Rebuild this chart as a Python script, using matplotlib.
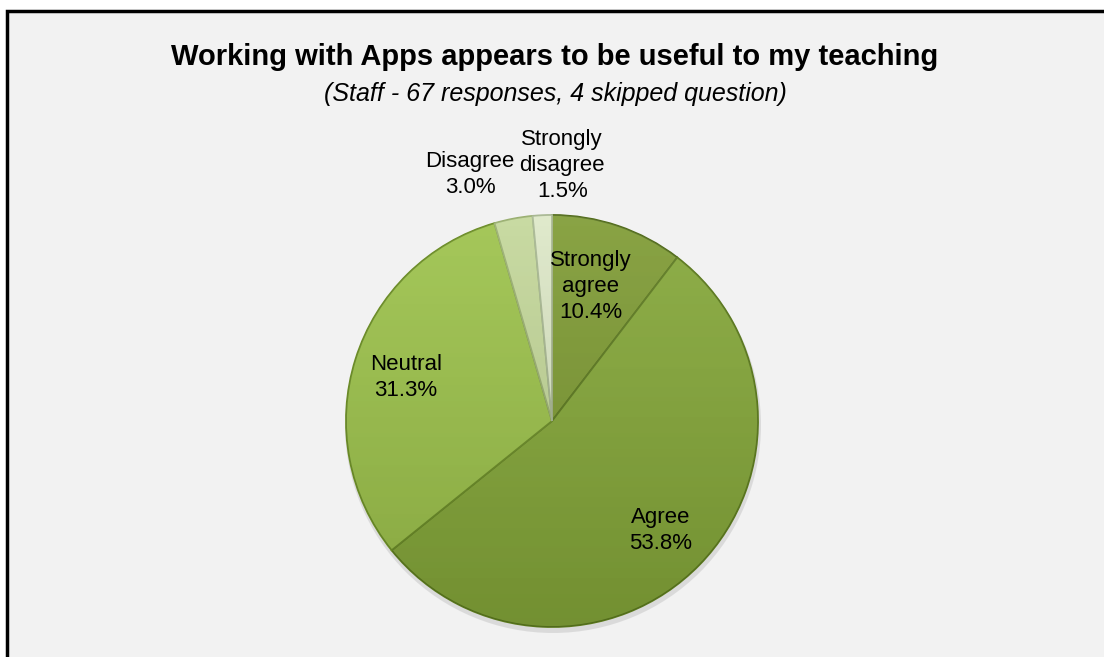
import numpy as np
import matplotlib.pyplot as plt
from matplotlib.patches import Rectangle, Circle

categories = ["Strongly\nagree", "Agree", "Neutral", "Disagree", "Strongly\ndisagree"]
percent = [10.4, 53.8, 31.3, 3.0, 1.5]
colors = ["#7d9a31", "#84a737", "#9cc249", "#c3d799", "#dce7c6"]
edges = ["#506a18", "#5a781c", "#6a8c24", "#98ae6e", "#a6b690"]

# label placement (radius as fraction of pie radius, extra angle in degrees)
lab_r = [0.68, 0.75, 0.74, 1.26, 1.24]
lab_da = [2.6, -1, 1, 7.6, -5]

FONT = "Liberation Sans"

W, H = 1104, 657
fig = plt.figure(figsize=(W / 100, H / 100), dpi=100, facecolor="white")
fig.patches.append(Rectangle((7 / W, -0.1), 1.2, (H - 11) / H + 0.1, transform=fig.transFigure,
                             facecolor="#f2f2f2", edgecolor="black", linewidth=2.5, zorder=-1))

ax = fig.add_axes([0, 0, 1, 1])
ax.axis("off")

cx, cy, R = 552, 236, 206

# soft shadow under the pie
ax.add_patch(Circle((cx + 1, cy - 4), R + 2, facecolor="#c4c4c4", edgecolor="none", alpha=0.5, zorder=1))

wedges, _ = ax.pie(percent, colors=colors, startangle=90, counterclock=False,
                   center=(cx, cy), radius=R, frame=True,
                   wedgeprops=dict(linewidth=1.3))
for w, ec in zip(wedges, edges):
    w.set_edgecolor(ec)
    w.set_zorder(2)

# vertical shading over the pie
grad = np.linspace(0, 1, 256).reshape(-1, 1)
shade = np.zeros((256, 1, 4))
shade[..., :3] = 0.1
shade[..., 3] = 0.16 * grad
hl = np.zeros((256, 1, 4))
hl[..., :3] = 1.0
hl[..., 3] = 0.10 * (1 - grad)
clip = Circle((cx, cy), R, transform=ax.transData)
for img in (shade, hl):
    im = ax.imshow(img, extent=(cx - R, cx + R, cy - R, cy + R), origin="upper",
                   aspect="auto", zorder=3, interpolation="bilinear")
    im.set_clip_path(clip)

ax.set_xlim(0, W)
ax.set_ylim(0, H)
ax.set_aspect("equal")
ax.axis("off")

for w, cat, p, r, da in zip(wedges, categories, percent, lab_r, lab_da):
    ang = np.deg2rad((w.theta1 + w.theta2) / 2 + da)
    x = cx + r * R * np.cos(ang)
    y = cy + r * R * np.sin(ang)
    ax.text(x, y, f"{cat}\n{p:.1f}%", ha="center", va="center", fontsize=16,
            family=FONT, linespacing=1.3, color="black", zorder=5)

fig.text(555 / W, 1 - 57 / H, "Working with Apps appears to be useful to my teaching",
         ha="center", va="center", fontsize=21, fontweight="bold", family=FONT)
fig.text(555 / W, 1 - 94 / H, "(Staff - 67 responses, 4 skipped question)",
         ha="center", va="center", fontsize=18, style="italic", family=FONT)

fig.savefig("out.png", dpi=100, facecolor="white")
